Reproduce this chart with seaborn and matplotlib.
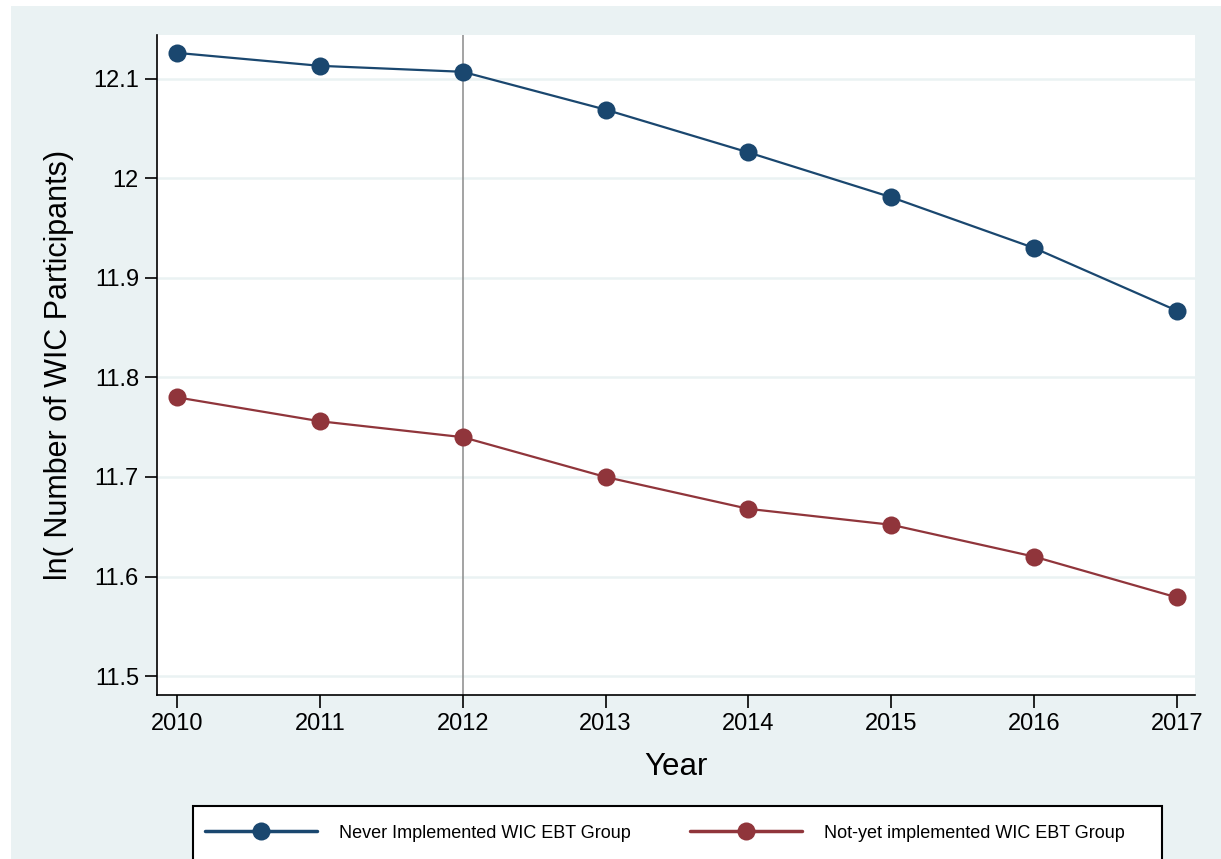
import numpy as np
import pandas as pd
import seaborn as sns
import matplotlib.pyplot as plt
from matplotlib.patches import Rectangle
from matplotlib.lines import Line2D

years = [2010, 2011, 2012, 2013, 2014, 2015, 2016, 2017]
never_group = [12.126, 12.113, 12.107, 12.069, 12.026, 11.981, 11.930, 11.867]
notyet_group = [11.780, 11.756, 11.740, 11.700, 11.668, 11.652, 11.620, 11.579]
group_names = ["Never Implemented WIC EBT Group", "Not-yet implemented WIC EBT Group"]
y_ticks = [11.5, 11.6, 11.7, 11.8, 11.9, 12.0, 12.1]
y_ticklabels = ["11.5", "11.6", "11.7", "11.8", "11.9", "12", "12.1"]

navy = "#1a476f"
maroon = "#90353b"
bg = "#eaf2f3"

df = pd.DataFrame({
    "year": years * 2,
    "value": never_group + notyet_group,
    "group": [group_names[0]] * len(years) + [group_names[1]] * len(years),
})

sns.set_theme(style="white")
plt.rcParams["font.family"] = ["Liberation Sans", "DejaVu Sans"]
plt.rcParams["text.color"] = "black"
plt.rcParams["axes.labelcolor"] = "black"
plt.rcParams["xtick.color"] = "black"
plt.rcParams["ytick.color"] = "black"

fig = plt.figure(figsize=(12.21, 8.59), dpi=100)
fig.patch.set_facecolor("white")
# light stata-like background (top strip stays white)
fig.patches.append(Rectangle((0.009, -0.01), 1.0, 1.0 - 0.007 + 0.01, transform=fig.transFigure,
                             facecolor=bg, edgecolor="none", zorder=-5))

ax = fig.add_axes([0.1286, 0.1909, 0.8501, 0.7684])
ax.set_facecolor("white")

ax.axvline(2012, color="#8a8a8a", lw=1.1, zorder=1)
for t in y_ticks:
    ax.axhline(t, color=bg, lw=1.8, zorder=0.5)

sns.lineplot(data=df, x="year", y="value", hue="group", palette=[navy, maroon],
             marker="o", markersize=13, markeredgewidth=0, linewidth=1.6,
             legend=False, ax=ax, zorder=3)

ax.set_xlim(2009.86, 2017.126)
ax.set_ylim(11.481, 12.144)
ax.set_xticks(years)
ax.set_xticklabels([str(y) for y in years])
ax.set_yticks(y_ticks)
ax.set_yticklabels(y_ticklabels)
ax.tick_params(axis="both", labelsize=17, length=9, width=1.2, colors="black",
               direction="out", left=True, bottom=True, pad=4)
ax.set_xlabel("Year", fontsize=22.5, labelpad=12)
ax.set_ylabel("ln( Number of WIC Participants)", fontsize=22, labelpad=14)

for side in ["top", "right"]:
    ax.spines[side].set_visible(False)
for side in ["left", "bottom"]:
    ax.spines[side].set_color("black")
    ax.spines[side].set_linewidth(1.2)

# legend box
fig.patches.append(Rectangle((0.158, -0.02), 0.794, 0.0617 + 0.02, transform=fig.transFigure,
                             facecolor="white", edgecolor="black", lw=1.5, zorder=1))
handles = [Line2D([], [], color=c, lw=2.5, marker="o", markersize=13, markeredgewidth=0)
           for c in [navy, maroon]]
fig.legend(handles, group_names, loc="center", bbox_to_anchor=(0.5445, 0.030), ncol=2,
           frameon=False, fontsize=13, handlelength=6.2, columnspacing=3.3, handletextpad=1.2)

fig.savefig("out.png", dpi=100, facecolor=fig.get_facecolor())
